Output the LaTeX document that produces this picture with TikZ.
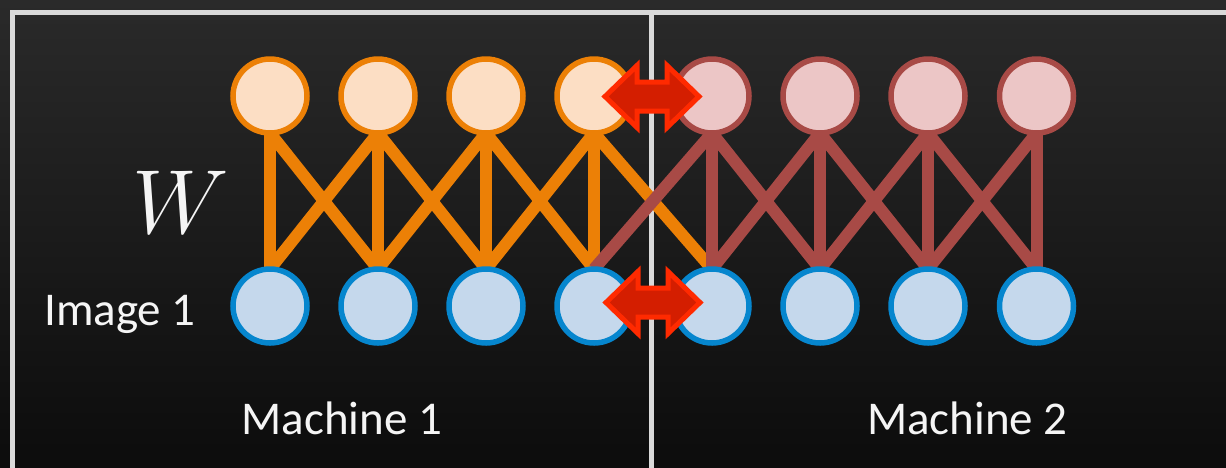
\documentclass[tikz,border=0pt]{standalone}
\usepackage{fontspec}
\setmainfont{Carlito}
\usetikzlibrary{positioning}
\definecolor{BgTop}{RGB}{42, 42, 42}
\definecolor{BgBottom}{RGB}{12, 12, 12}
\definecolor{FrameGray}{RGB}{218, 218, 218}
\definecolor{UnitOrange}{RGB}{236, 128, 6}
\definecolor{UnitPeach}{RGB}{252, 222, 196}
\definecolor{UnitBrick}{RGB}{168, 74, 70}
\definecolor{UnitRose}{RGB}{236, 198, 198}
\definecolor{UnitBlue}{RGB}{6, 134, 206}
\definecolor{UnitSky}{RGB}{197, 216, 236}
\definecolor{SwapFill}{RGB}{212, 30, 0}
\definecolor{SwapEdge}{RGB}{255, 42, 0}
\definecolor{LabelWhite}{RGB}{245, 245, 245}
\pgfdeclarelayer{bg}
\pgfdeclarelayer{edges}
\pgfsetlayers{bg,edges,main}

\begin{document}
\begin{tikzpicture}[
    x=1pt, y=-1pt,
    every node/.style={text=LabelWhite, inner sep=0pt},
    unit/.style={circle, minimum size=74pt, line width=5.5pt, outer sep=0pt},
    hidleft/.style={unit, draw=UnitOrange, fill=UnitPeach},
    hidright/.style={unit, draw=UnitBrick, fill=UnitRose},
    inunit/.style={unit, draw=UnitBlue, fill=UnitSky},
    oline/.style={draw=UnitOrange, line width=12pt},
    rline/.style={draw=UnitBrick, line width=12pt},
    label/.style={font=\fontsize{47}{50}\selectfont, anchor=base},
    exchange/.pic={
      \draw[fill=SwapFill, draw=SwapEdge, line width=5pt, line join=miter]
        (-47,0) -- (-15,-31) -- (-15,-14.5) -- (15,-14.5) -- (15,-31) -- (47,0)
        -- (15,31) -- (15,14.5) -- (-15,14.5) -- (-15,31) -- cycle;
    }
  ]
    \useasboundingbox (0,0) rectangle (1226,467);

    % Background and frame
    \begin{pgfonlayer}{bg}
      \shade[top color=BgTop, bottom color=BgBottom] (0,0) rectangle (1226,467);
      \draw[FrameGray, line width=5pt] (12,470) -- (12,12.5) -- (1230,12.5);
      \draw[FrameGray, line width=5pt] (651.5,12.5) -- (651.5,470);
    \end{pgfonlayer}

    % Units, machine 1 and machine 2
    \foreach \n/\x in {1/270, 2/378, 3/486, 4/594} {
      \node[hidleft] (h\n) at (\x,96) {};
      \node[inunit] (v\n) at (\x,306) {};
    }
    \foreach \n/\x in {5/712, 6/820, 7/928, 8/1036.5} {
      \node[hidright] (h\n) at (\x,96) {};
      \node[inunit] (v\n) at (\x,306) {};
    }

    % Connections W
    \begin{pgfonlayer}{edges}
      \foreach \a/\b in {1/1, 1/2, 2/1, 2/2, 2/3, 3/2, 3/3, 3/4, 4/3, 4/4, 4/5}
        \draw[oline] (h\a.south) -- (v\b.north);
      \foreach \a/\b in {5/4, 5/5, 5/6, 6/5, 6/6, 6/7, 7/6, 7/7, 7/8, 8/7, 8/8}
        \draw[rline] (h\a.south) -- (v\b.north);
    \end{pgfonlayer}

    % Exchange between machines
    \pic at (652,96.5) {exchange};
    \pic at (653,302.5) {exchange};

    % Labels
    \node[anchor=base, font=\fontsize{24.88}{26}\selectfont, scale=3.66] (wlabel) at (181,233) {$W$};
    \node[label] (img) at (120,325) {Image 1};
    \node[label] (mach1) at (342,434) {Machine 1};
    \node[label] (mach2) at (967.5,434) {Machine 2};
\end{tikzpicture}
\end{document}
